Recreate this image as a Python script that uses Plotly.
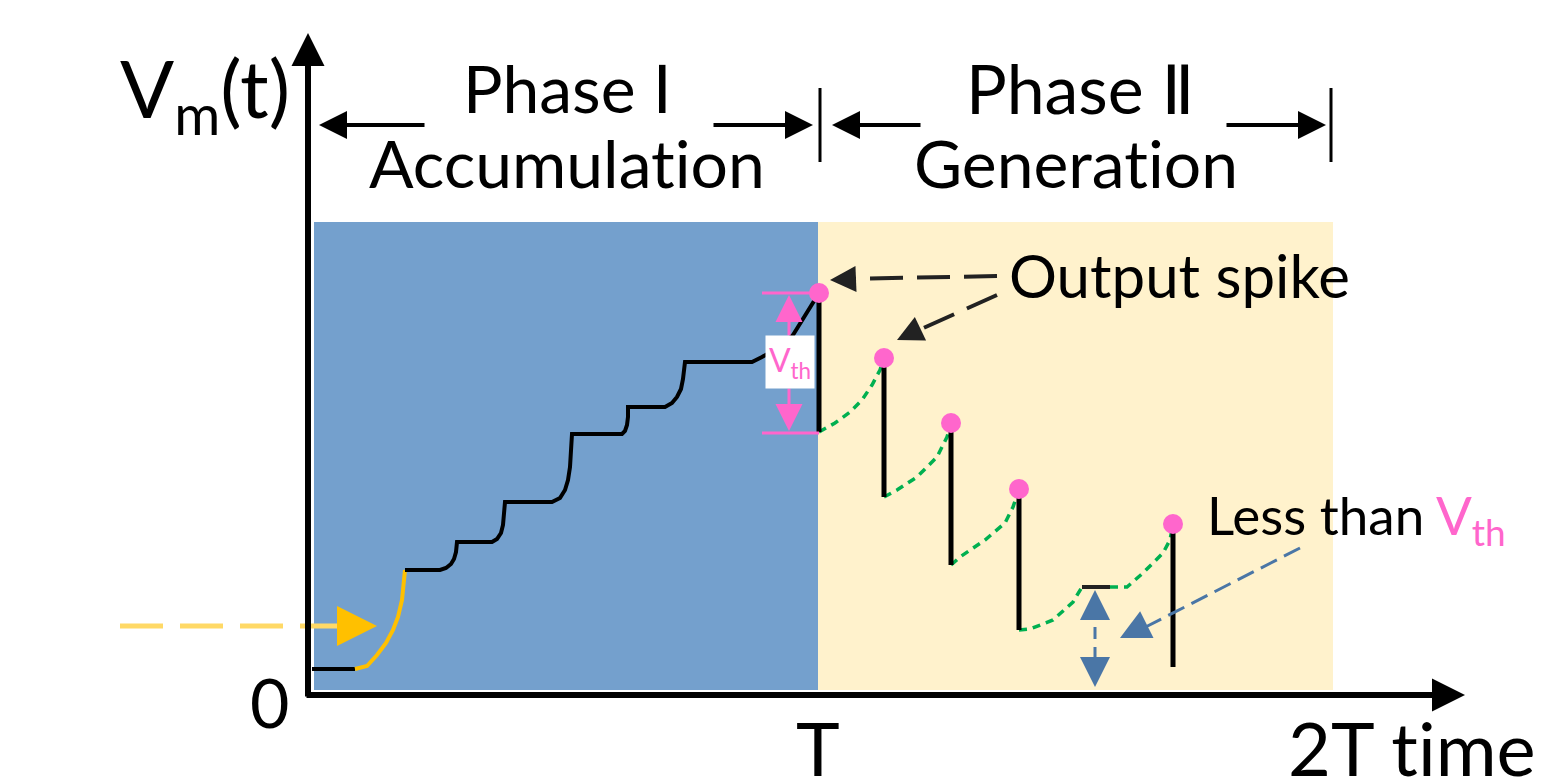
import plotly.graph_objects as go

# ---------------- data (time units: T = 508, voltage in arbitrary units) ----------------
T = 508
baseline_t = [2, 45]
baseline_v = [26, 26]

input_t = [45, 57, 67, 76, 83, 88, 92, 94, 95]
input_v = [26, 29, 40, 52, 65, 78, 95, 110, 125]

accum_t = [95, 130, 136, 141, 144, 146, 147, 182, 187, 191, 193, 194, 195,
           242, 250, 255, 258, 260, 261, 262, 312, 315, 317, 318, 318,
           355, 362, 367, 371, 373, 375, 442, 452, 470, 483, 495, 509]
accum_v = [125, 125, 127, 131, 136, 143, 153, 153, 156, 162, 170, 180, 193,
           193, 197, 205, 215, 228, 243, 261, 261, 264, 270, 278, 288,
           288, 292, 298, 306, 316, 333, 333, 338, 348, 360, 380, 402]

spike_t = [509, 574, 641, 709, 863]
spike_v = [402, 337, 272, 206, 171]
reset_v = [263, 198, 130, 65, 28]

rec1_t = [509, 525, 540, 552, 562, 570, 574]
rec1_v = [263, 272, 283, 295, 310, 325, 337]
rec2_t = [574, 587, 607, 627, 637, 641]
rec2_v = [198, 205, 218, 238, 258, 272]
rec3_t = [641, 650, 675, 695, 703, 709]
rec3_v = [130, 138, 155, 172, 188, 206]
rec4a_t = [709, 720, 743, 763, 772]
rec4a_v = [65, 66, 75, 93, 108]
plateau_t = [772, 800]
plateau_v = [108, 108]
rec4b_t = [800, 817, 833, 853, 860, 863]
rec4b_v = [108, 108, 122, 142, 155, 171]

# ---------------- style ----------------
FONT = "Lato, 'DejaVu Sans', sans-serif"
BLUE_BG = "#74A0CD"
CREAM = "#FFF2CC"
PINK = "#FF66CC"
GREEN = "#00B050"
YEL = "#FFC000"
YEL_L = "#FFD966"
SBLUE = "#4A76A6"
ZWNJ = "\u200c"

fig = go.Figure()

# background phases
fig.add_shape(type="rect", x0=4, x1=T, y0=5, y1=473, fillcolor=BLUE_BG, line_width=0, layer="below")
fig.add_shape(type="rect", x0=T, x1=1023, y0=5, y1=473, fillcolor=CREAM, line_width=0, layer="below")

def line(x, y, color, width, dash="solid"):
    fig.add_trace(go.Scatter(x=x, y=y, mode="lines", hoverinfo="skip",
                             line=dict(color=color, width=width, dash=dash)))

# membrane potential - accumulation
line(baseline_t, baseline_v, "black", 4)
line(input_t, input_v, YEL, 4)
line(accum_t, accum_v, "black", 4)

# recovery curves (green dashed)
for xs, ys in [(rec1_t, rec1_v), (rec2_t, rec2_v), (rec3_t, rec3_v), (rec4a_t, rec4a_v), (rec4b_t, rec4b_v)]:
    line(xs, ys, GREEN, 3.5, dash="8px,6px")
line(plateau_t, plateau_v, "#222222", 4)

# reset drops
dx, dy = [], []
for t, a, b in zip(spike_t, spike_v, reset_v):
    dx += [t, t, None]
    dy += [a, b, None]
line(dx, dy, "black", 5)

# spikes
fig.add_trace(go.Scatter(x=spike_t, y=spike_v, mode="markers", hoverinfo="skip",
                         marker=dict(size=20, color=PINK)))

# ---------------- helpers for decorations ----------------
def arrow(x, y, ax, ay, color, width, size, head=2):
    fig.add_annotation(x=x, y=y, ax=ax, ay=ay, xref="x", yref="y", axref="x", ayref="y",
                       text="", showarrow=True, arrowhead=head, arrowsize=size,
                       arrowwidth=width, arrowcolor=color, standoff=0)

def text(x, y, s, size, xanchor="center", color="black"):
    fig.add_annotation(x=x, y=y, xref="x", yref="y", text=s, showarrow=False,
                       xanchor=xanchor, yanchor="middle",
                       font=dict(family=FONT, size=size, color=color))

# axes
arrow(-2, 662, -2, -3, "black", 6, 1.1)
arrow(1155, 0, -5, 0, "black", 6, 1.1)

# phase arrows
arrow(9, 570, 116, 570, "black", 4, 1.4)
arrow(503, 570, 402, 570, "black", 4, 1.4)
arrow(522, 570, 612, 570, "black", 4, 1.4)
arrow(1016, 570, 915, 570, "black", 4, 1.4)
line([510, 510, None, 1021, 1021], [607, 533, None, 607, 533], "black", 3)

# input spike (yellow)
line([-190, 40], [69, 69], YEL_L, 5, dash="43px,17px")
arrow(67, 69, 30, 69, YEL, 5, 1.6)

# Vth marker
line([452, 509, None, 452, 509], [402, 402, None, 262, 262], PINK, 3)
arrow(479, 400, 479, 358, PINK, 3, 1.8)
arrow(479, 264, 479, 308, PINK, 3, 1.8)
fig.add_annotation(x=480, y=333, xref="x", yref="y", text="V<sub>th</sub>", showarrow=False,
                   bgcolor="white", width=46, height=50,
                   font=dict(family=FONT, size=32, color=PINK))

# output spike pointers
line([687, 530], [419, 416], "#222222", 4, dash="33px,14px")
arrow(520, 415, 545, 416, "#222222", 4, 1.3)
line([687, 600], [400, 361], "#222222", 4, dash="33px,14px")
arrow(587, 355, 610, 366, "#222222", 4, 1.3)

# less than Vth pointers
line([990, 820], [147, 60], SBLUE, 3, dash="18px,8px")
arrow(810, 57, 832, 68, SBLUE, 3, 2.0)
line([785, 785], [88, 28], SBLUE, 3, dash="12px,8px")
arrow(785, 105, 785, 82, SBLUE, 3, 2.0)
arrow(785, 8, 785, 32, SBLUE, 3, 2.0)

# texts
text(-105, 602, "V<sub>m</sub>(t)", 80)
text(257, 608, "Phase Ⅰ", 66)
text(257, 533, "Accumulation".replace("ti", "t" + ZWNJ + "i"), 66)
text(770, 608, "Phase Ⅱ", 68)
text(766, 533, "Generation".replace("ti", "t" + ZWNJ + "i"), 66)
text(697, 420, "Output spike", 60, xanchor="left")
text(895, 177, "Less than <span style='color:%s'>V<sub>th</sub></span>" % PINK, 53, xanchor="left")
text(-41, -6, "0", 68)
text(508, -52, "T", 74)
text(976, -52, "2T " + "time".replace("ti", "t" + ZWNJ + "i"), 74, xanchor="left")

fig.update_layout(
    width=1542, height=777, margin=dict(l=0, r=0, t=0, b=0),
    paper_bgcolor="white", plot_bgcolor="white", showlegend=False,
    xaxis=dict(range=[-310, 1232], visible=False, fixedrange=True),
    yaxis=dict(range=[-82, 695], visible=False, fixedrange=True),
)

fig.write_html("out.html", config={"displayModeBar": False},
               post_script="document.body.style.margin='0px';document.body.style.overflow='hidden';")
